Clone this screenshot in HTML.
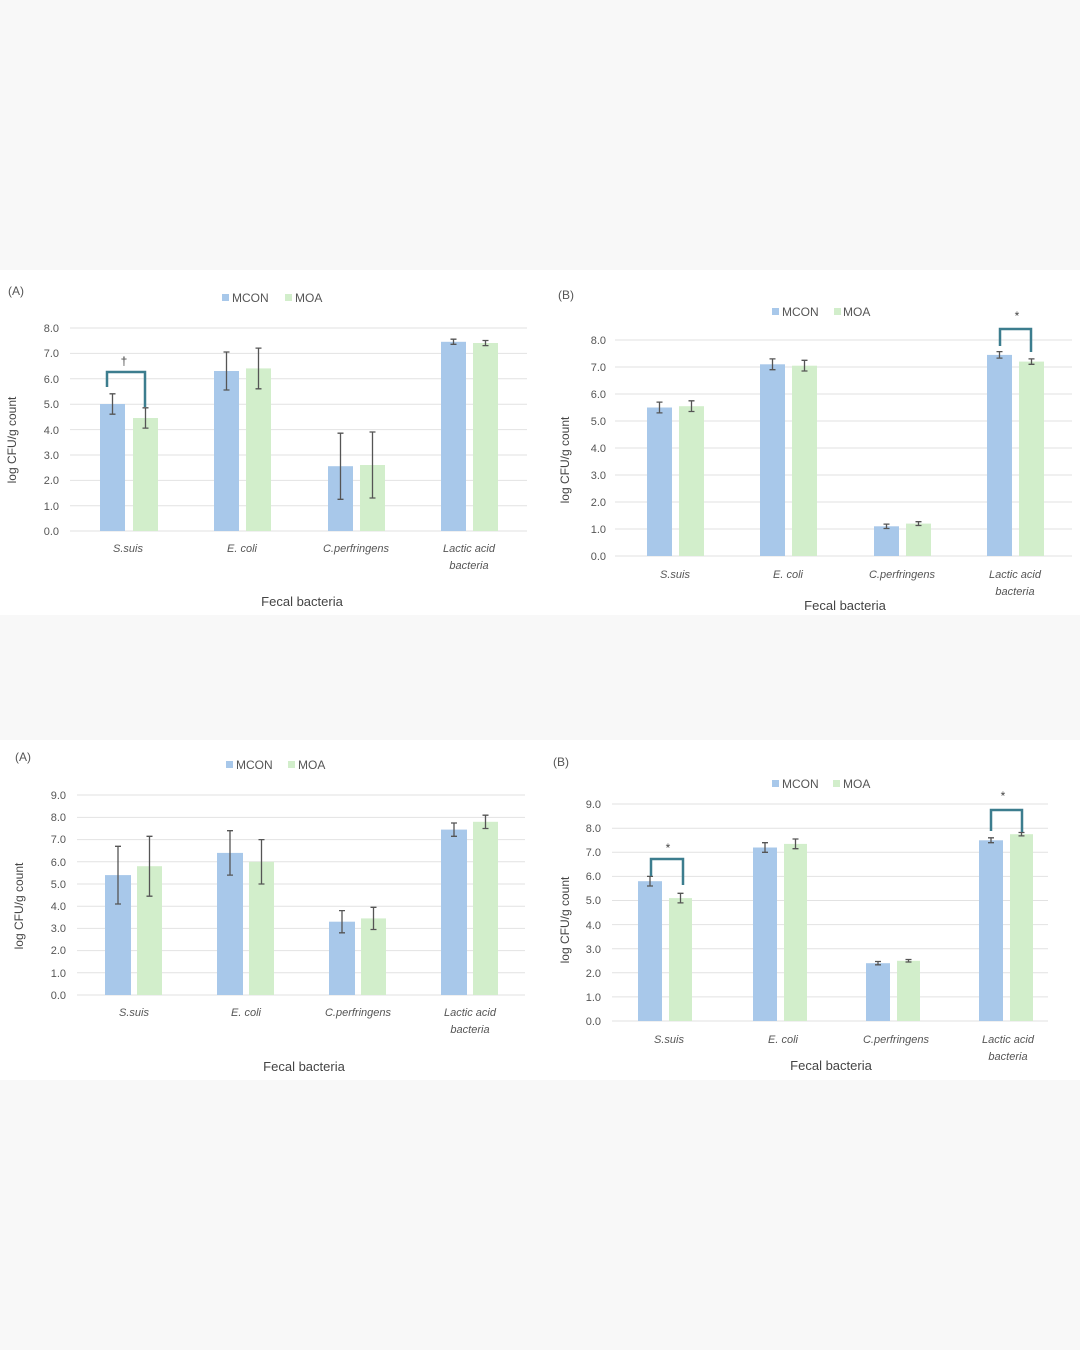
<!DOCTYPE html>
<html><head><meta charset="utf-8"><style>
html,body{margin:0;padding:0;background:#f8f8f8;}
svg{display:block;font-family:"Liberation Sans",sans-serif;}
.t{font-size:11px;fill:#555;text-anchor:end}
.c{font-size:11px;fill:#555;font-style:italic;text-anchor:middle}
.a{font-size:13px;fill:#444;text-anchor:middle}
.l{font-size:12px;fill:#555}
.g{stroke:#e2e2e2;stroke-width:1}
.b{fill:#a8c8ea}.m{fill:#d2eecb}
.e{stroke:#555;stroke-width:1.3;fill:none}
.k{stroke:#3c7d8e;stroke-width:2.5;fill:none}
</style></head><body>
<svg width="1080" height="1350" viewBox="0 0 1080 1350">
<rect x="0" y="270" width="1080" height="345" fill="#fff"/>
<rect x="0" y="740" width="1080" height="340" fill="#fff"/>

<!-- A1 -->
<g>
<text x="8" y="295" class="l">(A)</text>
<rect x="222" y="294" width="7" height="7" class="b"/><text x="232" y="302" class="l">MCON</text>
<rect x="285" y="294" width="7" height="7" class="m"/><text x="295" y="302" class="l">MOA</text>
<line x1="70" x2="527" y1="328" y2="328" class="g"/><line x1="70" x2="527" y1="353.4" y2="353.4" class="g"/><line x1="70" x2="527" y1="378.8" y2="378.8" class="g"/><line x1="70" x2="527" y1="404.2" y2="404.2" class="g"/><line x1="70" x2="527" y1="429.6" y2="429.6" class="g"/><line x1="70" x2="527" y1="455" y2="455" class="g"/><line x1="70" x2="527" y1="480.4" y2="480.4" class="g"/><line x1="70" x2="527" y1="505.8" y2="505.8" class="g"/><line x1="70" x2="527" y1="531" y2="531" class="g"/>
<text x="59" y="332" class="t">8.0</text><text x="59" y="357" class="t">7.0</text><text x="59" y="383" class="t">6.0</text><text x="59" y="408" class="t">5.0</text><text x="59" y="434" class="t">4.0</text><text x="59" y="459" class="t">3.0</text><text x="59" y="484" class="t">2.0</text><text x="59" y="510" class="t">1.0</text><text x="59" y="535" class="t">0.0</text>
<text class="a" transform="translate(16,440) rotate(-90)" style="font-size:12px">log CFU/g count</text>
<rect x="100" y="404" width="25" height="127" class="b"/><rect x="133" y="418" width="25" height="113" class="m"/>
<rect x="214" y="371" width="25" height="160" class="b"/><rect x="246" y="368.4" width="25" height="162.6" class="m"/>
<rect x="328" y="466.2" width="25" height="64.8" class="b"/><rect x="360" y="465" width="25" height="66" class="m"/>
<rect x="441" y="341.8" width="25" height="189.2" class="b"/><rect x="473" y="343" width="25" height="188" class="m"/>
<path class="e" d="M112.5 414.2V393.8M109.5 414.2h6M109.5 393.8h6 M145.5 428.1V407.8M142.5 428.1h6M142.5 407.8h6 M226.5 390V352M223.5 390h6M223.5 352h6 M258.5 388.8V348.1M255.5 388.8h6M255.5 348.1h6 M340.5 499.3V433.2M337.5 499.3h6M337.5 433.2h6 M372.5 498V432M369.5 498h6M369.5 432h6 M453.5 344.3V339.2M450.5 344.3h6M450.5 339.2h6 M485.5 345.6V340.5M482.5 345.6h6M482.5 340.5h6"/>
<path class="k" d="M107 387V372H145V407"/>
<text x="124" y="365" class="a" style="font-size:12px">†</text>
<text x="128" y="552" class="c">S.suis</text><text x="242" y="552" class="c">E. coli</text><text x="356" y="552" class="c">C.perfringens</text><text x="469" y="552" class="c">Lactic acid</text><text x="469" y="569" class="c">bacteria</text>
<text x="302" y="606" class="a">Fecal bacteria</text>
</g>

<!-- B1 -->
<g>
<text x="558" y="299" class="l">(B)</text>
<rect x="772" y="308" width="7" height="7" class="b"/><text x="782" y="316" class="l">MCON</text>
<rect x="834" y="308" width="7" height="7" class="m"/><text x="843" y="316" class="l">MOA</text>
<line x1="615" x2="1072" y1="340" y2="340" class="g"/><line x1="615" x2="1072" y1="367" y2="367" class="g"/><line x1="615" x2="1072" y1="394" y2="394" class="g"/><line x1="615" x2="1072" y1="421" y2="421" class="g"/><line x1="615" x2="1072" y1="448" y2="448" class="g"/><line x1="615" x2="1072" y1="475" y2="475" class="g"/><line x1="615" x2="1072" y1="502" y2="502" class="g"/><line x1="615" x2="1072" y1="529" y2="529" class="g"/><line x1="615" x2="1072" y1="556" y2="556" class="g"/>
<text x="606" y="344" class="t">8.0</text><text x="606" y="371" class="t">7.0</text><text x="606" y="398" class="t">6.0</text><text x="606" y="425" class="t">5.0</text><text x="606" y="452" class="t">4.0</text><text x="606" y="479" class="t">3.0</text><text x="606" y="506" class="t">2.0</text><text x="606" y="533" class="t">1.0</text><text x="606" y="560" class="t">0.0</text>
<text class="a" transform="translate(569,460) rotate(-90)" style="font-size:12px">log CFU/g count</text>
<rect x="647" y="407.5" width="25" height="148.5" class="b"/><rect x="679" y="406.2" width="25" height="149.8" class="m"/>
<rect x="760" y="364.3" width="25" height="191.7" class="b"/><rect x="792" y="365.7" width="25" height="190.3" class="m"/>
<rect x="874" y="526.3" width="25" height="29.7" class="b"/><rect x="906" y="523.6" width="25" height="32.4" class="m"/>
<rect x="987" y="354.9" width="25" height="201.1" class="b"/><rect x="1019" y="361.6" width="25" height="194.4" class="m"/>
<path class="e" d="M659.5 412.9V402.1M656.5 412.9h6M656.5 402.1h6 M691.5 411.5V400.8M688.5 411.5h6M688.5 400.8h6 M772.5 369.7V358.9M769.5 369.7h6M769.5 358.9h6 M804.5 371V360.3M801.5 371h6M801.5 360.3h6 M886.5 528.5V524.1M883.5 528.5h6M883.5 524.1h6 M918.5 525.5V521.7M915.5 525.5h6M915.5 521.7h6 M999.5 358.1V351.6M996.5 358.1h6M996.5 351.6h6 M1031.5 364.3V358.9M1028.5 364.3h6M1028.5 358.9h6"/>
<path class="k" d="M1000 346V329H1031V352"/>
<text x="1017" y="320" class="a" style="font-size:12px">*</text>
<text x="675" y="578" class="c">S.suis</text><text x="788" y="578" class="c">E. coli</text><text x="902" y="578" class="c">C.perfringens</text><text x="1015" y="578" class="c">Lactic acid</text><text x="1015" y="595" class="c">bacteria</text>
<text x="845" y="610" class="a">Fecal bacteria</text>
</g>

<!-- A2 -->
<g>
<text x="15" y="761" class="l">(A)</text>
<rect x="226" y="761" width="7" height="7" class="b"/><text x="236" y="769" class="l">MCON</text>
<rect x="288" y="761" width="7" height="7" class="m"/><text x="298" y="769" class="l">MOA</text>
<line x1="77" x2="525" y1="795" y2="795" class="g"/><line x1="77" x2="525" y1="817.4" y2="817.4" class="g"/><line x1="77" x2="525" y1="839.6" y2="839.6" class="g"/><line x1="77" x2="525" y1="861.8" y2="861.8" class="g"/><line x1="77" x2="525" y1="884" y2="884" class="g"/><line x1="77" x2="525" y1="906.2" y2="906.2" class="g"/><line x1="77" x2="525" y1="928.4" y2="928.4" class="g"/><line x1="77" x2="525" y1="950.6" y2="950.6" class="g"/><line x1="77" x2="525" y1="972.8" y2="972.8" class="g"/><line x1="77" x2="525" y1="995" y2="995" class="g"/>
<text x="66" y="799" class="t">9.0</text><text x="66" y="821" class="t">8.0</text><text x="66" y="843" class="t">7.0</text><text x="66" y="866" class="t">6.0</text><text x="66" y="888" class="t">5.0</text><text x="66" y="910" class="t">4.0</text><text x="66" y="932" class="t">3.0</text><text x="66" y="954" class="t">2.0</text><text x="66" y="977" class="t">1.0</text><text x="66" y="999" class="t">0.0</text>
<text class="a" transform="translate(23,906) rotate(-90)" style="font-size:12px">log CFU/g count</text>
<rect x="105" y="875.1" width="26" height="119.9" class="b"/><rect x="137" y="866.2" width="25" height="128.8" class="m"/>
<rect x="217" y="852.9" width="26" height="142.1" class="b"/><rect x="249" y="861.8" width="25" height="133.2" class="m"/>
<rect x="329" y="921.7" width="26" height="73.3" class="b"/><rect x="361" y="918.4" width="25" height="76.6" class="m"/>
<rect x="441" y="829.6" width="26" height="165.4" class="b"/><rect x="473" y="821.8" width="25" height="173.2" class="m"/>
<path class="e" d="M118 904V846.3M115 904h6M115 846.3h6 M149.5 896.2V836.3M146.5 896.2h6M146.5 836.3h6 M230 875.1V830.7M227 875.1h6M227 830.7h6 M261.5 884V839.6M258.5 884h6M258.5 839.6h6 M342 932.8V910.6M339 932.8h6M339 910.6h6 M373.5 929.5V907.3M370.5 929.5h6M370.5 907.3h6 M454 836.3V823M451 836.3h6M451 823h6 M485.5 828.5V815.2M482.5 828.5h6M482.5 815.2h6"/>
<text x="134" y="1016" class="c">S.suis</text><text x="246" y="1016" class="c">E. coli</text><text x="358" y="1016" class="c">C.perfringens</text><text x="470" y="1016" class="c">Lactic acid</text><text x="470" y="1033" class="c">bacteria</text>
<text x="304" y="1071" class="a">Fecal bacteria</text>
</g>

<!-- B2 -->
<g>
<text x="553" y="766" class="l">(B)</text>
<rect x="772" y="780" width="7" height="7" class="b"/><text x="782" y="788" class="l">MCON</text>
<rect x="833" y="780" width="7" height="7" class="m"/><text x="843" y="788" class="l">MOA</text>
<line x1="612" x2="1048" y1="804" y2="804" class="g"/><line x1="612" x2="1048" y1="828.2" y2="828.2" class="g"/><line x1="612" x2="1048" y1="852.3" y2="852.3" class="g"/><line x1="612" x2="1048" y1="876.4" y2="876.4" class="g"/><line x1="612" x2="1048" y1="900.5" y2="900.5" class="g"/><line x1="612" x2="1048" y1="924.6" y2="924.6" class="g"/><line x1="612" x2="1048" y1="948.7" y2="948.7" class="g"/><line x1="612" x2="1048" y1="972.8" y2="972.8" class="g"/><line x1="612" x2="1048" y1="996.9" y2="996.9" class="g"/><line x1="612" x2="1048" y1="1021" y2="1021" class="g"/>
<text x="601" y="808" class="t">9.0</text><text x="601" y="832" class="t">8.0</text><text x="601" y="856" class="t">7.0</text><text x="601" y="880" class="t">6.0</text><text x="601" y="904" class="t">5.0</text><text x="601" y="929" class="t">4.0</text><text x="601" y="953" class="t">3.0</text><text x="601" y="977" class="t">2.0</text><text x="601" y="1001" class="t">1.0</text><text x="601" y="1025" class="t">0.0</text>
<text class="a" transform="translate(569,920) rotate(-90)" style="font-size:12px">log CFU/g count</text>
<rect x="638" y="881.2" width="24" height="139.8" class="b"/><rect x="669" y="898.1" width="23" height="122.9" class="m"/>
<rect x="753" y="847.5" width="24" height="173.5" class="b"/><rect x="784" y="843.9" width="23" height="177.1" class="m"/>
<rect x="866" y="963.2" width="24" height="57.8" class="b"/><rect x="897" y="960.8" width="23" height="60.2" class="m"/>
<rect x="979" y="840.3" width="24" height="180.7" class="b"/><rect x="1010" y="834.2" width="23" height="186.8" class="m"/>
<path class="e" d="M650 886V876.4M647 886h6M647 876.4h6 M680.5 902.9V893.3M677.5 902.9h6M677.5 893.3h6 M765 852.3V842.7M762 852.3h6M762 842.7h6 M795.5 848.7V839M792.5 848.7h6M792.5 839h6 M878 964.8V961.5M875 964.8h6M875 961.5h6 M908.5 962V959.5M905.5 962h6M905.5 959.5h6 M991 842.7V837.8M988 842.7h6M988 837.8h6 M1021.5 835.9V832.5M1018.5 835.9h6M1018.5 832.5h6"/>
<path class="k" d="M651 876V859H683V885"/>
<path class="k" d="M991 831V810H1022V832"/>
<text x="668" y="852" class="a" style="font-size:12px">*</text>
<text x="1003" y="800" class="a" style="font-size:12px">*</text>
<text x="669" y="1043" class="c">S.suis</text><text x="783" y="1043" class="c">E. coli</text><text x="896" y="1043" class="c">C.perfringens</text><text x="1008" y="1043" class="c">Lactic acid</text><text x="1008" y="1060" class="c">bacteria</text>
<text x="831" y="1070" class="a">Fecal bacteria</text>
</g>
</svg>
</body></html>
